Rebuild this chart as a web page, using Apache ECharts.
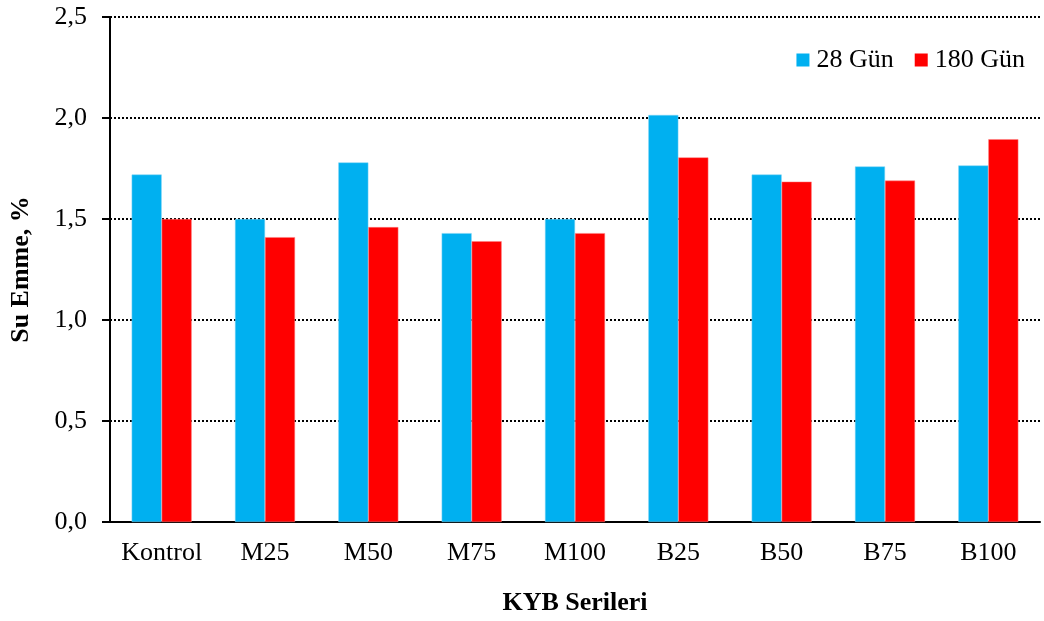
<!DOCTYPE html>
<html><head><meta charset="utf-8">
<script src="https://cdn.jsdelivr.net/npm/echarts@6/dist/echarts.min.js"></script>
<style>html,body{margin:0;padding:0;background:#fff}#c{width:1044px;height:621px}</style>
</head><body><div id="c"></div>
<script>
const categories = ['Kontrol','M25','M50','M75','M100','B25','B50','B75','B100'];
const series28 = [1.72, 1.50, 1.78, 1.43, 1.50, 2.015, 1.72, 1.76, 1.765];
const series180 = [1.50, 1.41, 1.46, 1.39, 1.43, 1.805, 1.685, 1.69, 1.895];
const seriesNames = ['28 Gün', '180 Gün'];
const yAxisName = 'Su Emme, %';
const xAxisName = 'KYB Serileri';

const font = '"Liberation Serif", "Times New Roman", serif';
const chart = echarts.init(document.getElementById('c'), null, {renderer: 'canvas'});
chart.setOption({
  animation: false,
  backgroundColor: '#fff',
  grid: {left: 109, right: 4, top: 17, bottom: 98, containLabel: false},
  legend: {
    data: seriesNames, top: 42, right: 14, itemWidth: 13, itemHeight: 13, itemGap: 21,
    icon: 'rect',
    itemStyle: {borderWidth: 0},
    textStyle: {fontFamily: font, fontSize: 26, color: '#000', padding: [0,0,0,2]}
  },
  xAxis: {
    type: 'category', data: categories,
    name: xAxisName, nameLocation: 'middle', nameGap: 68,
    nameTextStyle: {fontFamily: font, fontSize: 26, fontWeight: 'bold', color: '#000'},
    axisLine: {lineStyle: {color: '#000', width: 2}},
    axisTick: {show: false},
    axisLabel: {interval: 0, fontFamily: font, fontSize: 26, color: '#000', margin: 18}
  },
  yAxis: {
    type: 'value', min: 0, max: 2.5, interval: 0.5,
    name: yAxisName, nameLocation: 'middle', nameGap: 76,
    nameTextStyle: {fontFamily: font, fontSize: 26, fontWeight: 'bold', color: '#000'},
    axisLine: {show: true, lineStyle: {color: '#000', width: 2}},
    axisTick: {show: true, inside: false, length: 8, lineStyle: {color: '#000', width: 2}},
    axisLabel: {fontFamily: font, fontSize: 26, color: '#000', margin: 23,
      formatter: v => v.toFixed(1).replace('.', ',')},
    splitLine: {show: true, lineStyle: {color: '#000', type: [2, 2], width: 2}}
  },
  series: [
    {name: seriesNames[0], type: 'bar', data: series28, barWidth: 30, barGap: '0%',
     itemStyle: {color: '#00B0F0', borderColor: '#7fd4f5', borderWidth: 0.5}},
    {name: seriesNames[1], type: 'bar', data: series180, barWidth: 30, barGap: '0%',
     itemStyle: {color: '#FF0000', borderColor: '#ff8080', borderWidth: 0.5}}
  ]
});
</script></body></html>
